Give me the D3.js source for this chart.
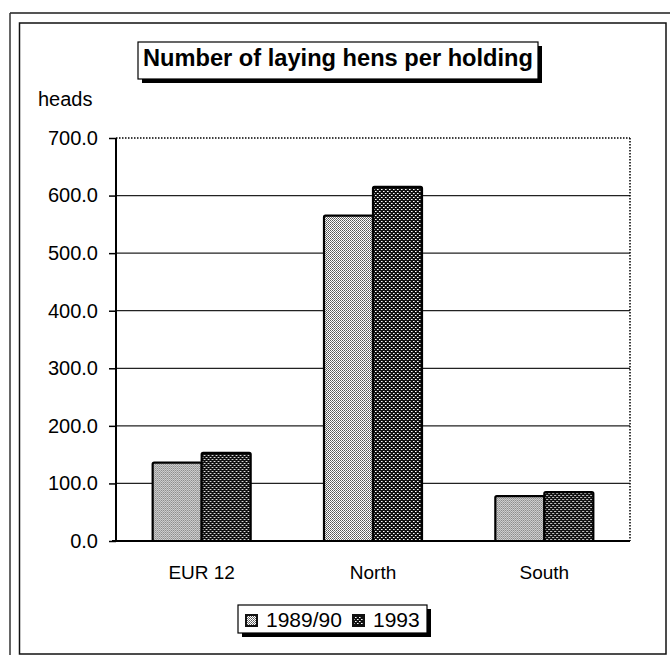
<!DOCTYPE html>
<html><head><meta charset="utf-8">
<script src="https://cdn.jsdelivr.net/npm/d3@7/dist/d3.min.js"></script>
<style>
html,body{margin:0;padding:0;background:#fff;}
svg{display:block;}
text{font-family:Arial,"Liberation Sans",sans-serif;fill:#000;}
</style></head>
<body>
<script>
const categories = ["EUR 12", "North", "South"];
const seriesNames = ["1989/90", "1993"];
const values1989 = [136, 565, 78];
const values1993 = [153, 615, 85];
const yTicks = [0, 100, 200, 300, 400, 500, 600, 700];
const titleText = "Number of laying hens per holding";
const yUnit = "heads";

(function () {
const W = 670, H = 655;
const FONT = "Arial, 'Liberation Sans', sans-serif";
const svg = d3.select("body").append("svg").attr("width", W).attr("height", H);
const defs = svg.append("defs");

const p1 = defs.append("pattern").attr("id", "pat1").attr("patternUnits", "userSpaceOnUse")
  .attr("width", 2).attr("height", 2);
p1.append("rect").attr("width", 2).attr("height", 2).attr("fill", "#fff");
p1.append("rect").attr("x", 0).attr("y", 0).attr("width", 1).attr("height", 1).attr("fill", "#555");
p1.append("rect").attr("x", 1).attr("y", 1).attr("width", 1).attr("height", 1).attr("fill", "#777");

const p2 = defs.append("pattern").attr("id", "pat2").attr("patternUnits", "userSpaceOnUse")
  .attr("width", 4).attr("height", 4);
p2.append("rect").attr("width", 4).attr("height", 4).attr("fill", "#111");
p2.append("rect").attr("x", 1).attr("y", 1).attr("width", 1).attr("height", 1).attr("fill", "#fff");
p2.append("rect").attr("x", 3).attr("y", 3).attr("width", 1).attr("height", 1).attr("fill", "#fff");
p2.append("rect").attr("x", 2).attr("y", 1).attr("width", 1).attr("height", 1).attr("fill", "#999");
p2.append("rect").attr("x", 0).attr("y", 3).attr("width", 1).attr("height", 1).attr("fill", "#999");

const fills = ["url(#pat1)", "url(#pat2)"];

svg.append("line").attr("x1", 10).attr("y1", 13).attr("x2", 670).attr("y2", 13)
  .attr("stroke", "#555").attr("stroke-width", 2);
svg.append("line").attr("x1", 10).attr("y1", 13).attr("x2", 10).attr("y2", 655)
  .attr("stroke", "#333").attr("stroke-width", 1.5);
svg.append("rect").attr("x", 19.5).attr("y", 23).attr("width", 646.5).attr("height", 631)
  .attr("fill", "none").attr("stroke", "#111").attr("stroke-width", 1.5);

const pLeft = 116, pRight = 630, pTop = 138, pBottom = 541;
const y = d3.scaleLinear().domain([0, 700]).range([pBottom, pTop]);
const x = d3.scaleBand().domain(categories).range([pLeft, pRight]).paddingInner(0.428).paddingOuter(0.214);
const xs = d3.scaleBand().domain(seriesNames).range([0, x.bandwidth()]);

svg.append("g").selectAll("line").data(yTicks.filter(t => t > 0 && t < 700)).join("line")
  .attr("x1", pLeft).attr("x2", pRight).attr("y1", d => y(d)).attr("y2", d => y(d))
  .attr("stroke", "#222").attr("stroke-width", 1.2);

svg.append("line").attr("x1", pLeft).attr("x2", pRight).attr("y1", y(700)).attr("y2", y(700))
  .attr("stroke", "#000").attr("stroke-width", 1.5).attr("stroke-dasharray", "1.5,1.5");
svg.append("line").attr("x1", pRight).attr("x2", pRight).attr("y1", y(700)).attr("y2", pBottom)
  .attr("stroke", "#000").attr("stroke-width", 1.5).attr("stroke-dasharray", "1.5,1.5");

const data = categories.map((c, i) => ({cat: c, vals: [values1989[i], values1993[i]]}));
const groups = svg.append("g").selectAll("g").data(data).join("g")
  .attr("transform", d => `translate(${x(d.cat)},0)`);
groups.selectAll("rect").data(d => d.vals.map((v, j) => ({v, s: seriesNames[j], j}))).join("rect")
  .attr("x", d => xs(d.s)).attr("width", xs.bandwidth())
  .attr("y", d => y(d.v)).attr("height", d => y(0) - y(d.v))
  .attr("fill", d => fills[d.j]).attr("stroke", "#000").attr("stroke-width", 2.2)
  .attr("rx", 1.5);

const yAxis = d3.axisLeft(y).tickValues(yTicks).tickFormat(d3.format(".1f")).tickSize(7).tickPadding(11);
const ga = svg.append("g").attr("transform", `translate(${pLeft},0)`).call(yAxis);
ga.select(".domain").remove();
ga.selectAll(".tick line").attr("stroke", "#000").attr("stroke-width", 1.5);
ga.selectAll(".tick text").attr("font-size", 20).attr("font-family", FONT).attr("fill", "#000");
svg.append("line").attr("x1", pLeft).attr("x2", pLeft).attr("y1", y(700)).attr("y2", pBottom + 1)
  .attr("stroke", "#000").attr("stroke-width", 2);

const xAxis = d3.axisBottom(x).tickSize(0).tickPadding(25);
const gx = svg.append("g").attr("transform", `translate(0,${pBottom})`).call(xAxis);
gx.select(".domain").remove();
gx.selectAll(".tick text").attr("font-size", 19).attr("font-family", FONT).attr("fill", "#000");
svg.append("line").attr("x1", pLeft - 4).attr("x2", pRight).attr("y1", pBottom).attr("y2", pBottom)
  .attr("stroke", "#000").attr("stroke-width", 2);

svg.append("text").attr("x", 38).attr("y", 106).attr("font-size", 20).text(yUnit);

const tb = {x: 138, y: 42, w: 400, h: 37};
svg.append("rect").attr("x", tb.x + 4).attr("y", tb.y + 4).attr("width", tb.w).attr("height", tb.h).attr("fill", "#000");
svg.append("rect").attr("x", tb.x).attr("y", tb.y).attr("width", tb.w).attr("height", tb.h)
  .attr("fill", "#fff").attr("stroke", "#000").attr("stroke-width", 1.2);
svg.append("text").attr("x", tb.x + tb.w / 2).attr("y", tb.y + 23.5).attr("text-anchor", "middle")
  .attr("font-size", 23.5).attr("font-weight", "bold").attr("textLength", 390)
  .attr("lengthAdjust", "spacingAndGlyphs").text(titleText);

const lb = {x: 238, y: 605, w: 189, h: 28};
svg.append("rect").attr("x", lb.x + 4).attr("y", lb.y + 4).attr("width", lb.w).attr("height", lb.h).attr("fill", "#000");
svg.append("rect").attr("x", lb.x).attr("y", lb.y).attr("width", lb.w).attr("height", lb.h)
  .attr("fill", "#fff").attr("stroke", "#000").attr("stroke-width", 1.2);
const legX = [245, 352];
const lg = svg.append("g").selectAll("g").data(seriesNames).join("g")
  .attr("transform", (d, i) => `translate(${legX[i]},${lb.y + 9})`);
lg.append("rect").attr("width", 13).attr("height", 13).attr("fill", "#111");
lg.append("rect").attr("x", 2).attr("y", 2).attr("width", 9).attr("height", 9).attr("fill", (d, i) => fills[i]);
lg.append("text").attr("x", 21).attr("y", 13).attr("font-size", 21).text(d => d);
})();
</script>
</body></html>
